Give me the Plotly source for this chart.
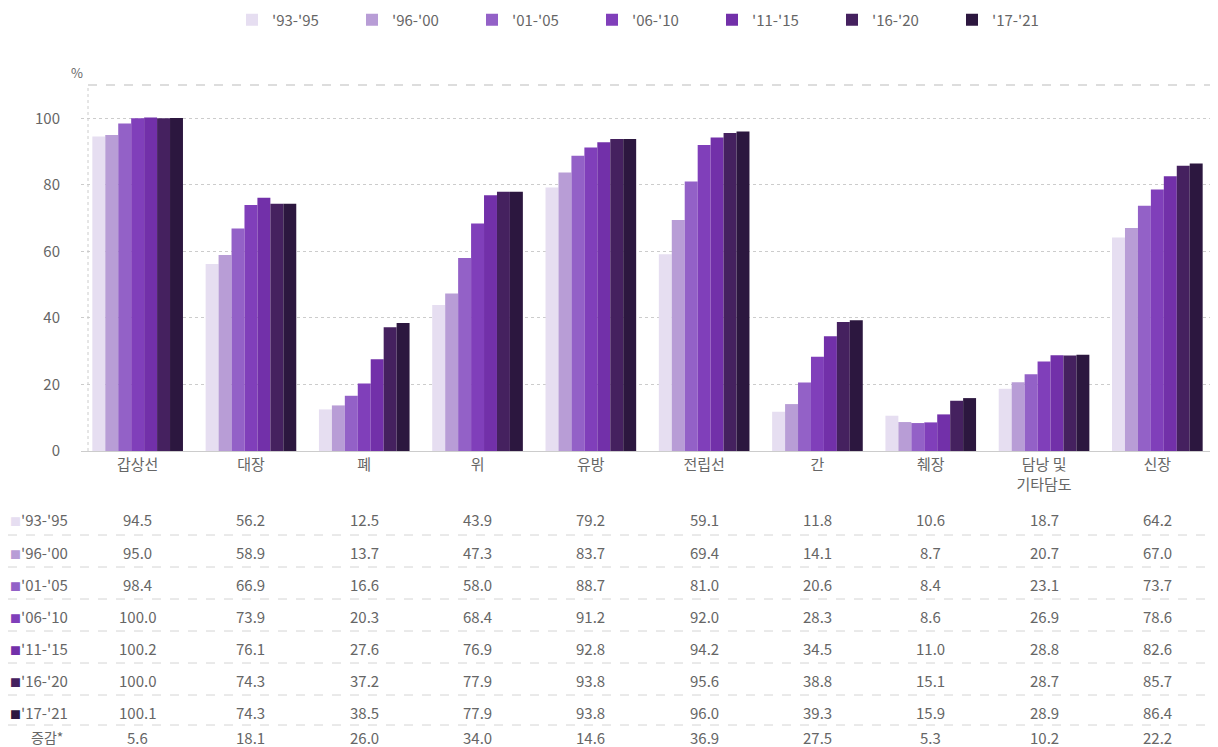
import plotly.graph_objects as go

categories = ["갑상선", "대장", "폐", "위", "유방", "전립선", "간", "췌장", "담낭 및<br>기타담도", "신장"]
periods = ["'93-'95", "'96-'00", "'01-'05", "'06-'10", "'11-'15", "'16-'20", "'17-'21"]
v93_95 = [94.5, 56.2, 12.5, 43.9, 79.2, 59.1, 11.8, 10.6, 18.7, 64.2]
v96_00 = [95.0, 58.9, 13.7, 47.3, 83.7, 69.4, 14.1, 8.7, 20.7, 67.0]
v01_05 = [98.4, 66.9, 16.6, 58.0, 88.7, 81.0, 20.6, 8.4, 23.1, 73.7]
v06_10 = [100.0, 73.9, 20.3, 68.4, 91.2, 92.0, 28.3, 8.6, 26.9, 78.6]
v11_15 = [100.2, 76.1, 27.6, 76.9, 92.8, 94.2, 34.5, 11.0, 28.8, 82.6]
v16_20 = [100.0, 74.3, 37.2, 77.9, 93.8, 95.6, 38.8, 15.1, 28.7, 85.7]
v17_21 = [100.1, 74.3, 38.5, 77.9, 93.8, 96.0, 39.3, 15.9, 28.9, 86.4]
change = [5.6, 18.1, 26.0, 34.0, 14.6, 36.9, 27.5, 5.3, 10.2, 22.2]
change_label = "증감*"
series = [v93_95, v96_00, v01_05, v06_10, v11_15, v16_20, v17_21]
colors = ["#e6def1", "#b89dd6", "#9361c7", "#803fba", "#7230a9", "#45215f", "#2c173f"]
yticks = [0, 20, 40, 60, 80, 100]

FONT = "Noto Sans CJK KR"
TXT = "#666666"
OFF = 8  # page body margin
W, H = 1218 - OFF, 747 - OFF
# plot area in reference pixel coords
L_REF, R_REF, T_REF, B_REF = 81, 1214, 85, 451
ML, MT = L_REF - OFF, T_REF - OFF
MR = W - (R_REF - OFF)
MB = H - (B_REF - OFF)
PH = H - MT - MB
PW = W - ML - MR

def py(pix):
    return (B_REF - pix) / PH

def px(pix):
    return (pix - L_REF) / PW

fig = go.Figure()
for name, vals, c in zip(periods, series, colors):
    fig.add_trace(go.Bar(x=categories, y=vals, name=name, marker=dict(color=c, line=dict(width=0))))

annotations = []
shapes = []
row_y = [520, 552, 584, 616, 648, 680, 712]
for i, (name, vals, c) in enumerate(zip(periods, series, colors)):
    annotations.append(dict(x=px(8), y=py(row_y[i]), xref="paper", yref="paper",
                            text=f"<span style='color:{c};font-size:11px'>■</span>{name}", showarrow=False,
                            xanchor="left", yanchor="middle", font=dict(size=15, color=TXT, family=FONT)))
    for cat, v in zip(categories, vals):
        annotations.append(dict(x=cat, y=py(row_y[i]), xref="x", yref="paper", text=f"{v:.1f}",
                                showarrow=False, xanchor="center", yanchor="middle",
                                font=dict(size=15, color=TXT, family=FONT)))
annotations.append(dict(x=px(47), y=py(737), xref="paper", yref="paper", text=change_label,
                        showarrow=False, xanchor="center", yanchor="middle",
                        font=dict(size=14, color=TXT, family=FONT)))
for cat, v in zip(categories, change):
    annotations.append(dict(x=cat, y=py(737), xref="x", yref="paper", text=f"{v:.1f}",
                            showarrow=False, xanchor="center", yanchor="middle",
                            font=dict(size=15, color=TXT, family=FONT)))
for sy in [535, 567, 599, 631, 663, 695, 725]:
    shapes.append(dict(type="line", xref="paper", yref="paper", x0=px(OFF), x1=px(1218), y0=py(sy), y1=py(sy),
                       line=dict(color="#d4d4d4", width=1, dash="dash")))
# top dashed border and left dotted axis
shapes.append(dict(type="line", xref="paper", yref="paper", x0=px(88), x1=1, y0=1, y1=1,
                   line=dict(color="#bbbbbb", width=1, dash="dash")))
shapes.append(dict(type="line", xref="paper", yref="paper", x0=px(88), x1=px(88), y0=0, y1=1,
                   line=dict(color="#cccccc", width=1, dash="dot")))
annotations.append(dict(x=px(77), y=py(72), xref="paper", yref="paper", text="%", showarrow=False,
                        xanchor="center", yanchor="middle", font=dict(size=13, color=TXT, family=FONT)))

fig.update_layout(
    width=W, height=H,
    margin=dict(l=ML, r=MR, t=MT, b=MB, autoexpand=False),
    plot_bgcolor="white", paper_bgcolor="white",
    barmode="group", bargap=0.2, bargroupgap=0,
    font=dict(family=FONT, color=TXT, size=15),
    legend=dict(orientation="h", x=px(652), xanchor="center", y=py(20), yanchor="middle",
                font=dict(size=15, color=TXT, family=FONT), itemwidth=30, entrywidth=75,
                entrywidthmode="pixels", tracegroupgap=0),
    annotations=annotations, shapes=shapes,
    xaxis=dict(showgrid=False, showline=True, linecolor="#cccccc", ticks="", tickfont=dict(size=15, color=TXT)),
    yaxis=dict(range=[0, 110], tickvals=yticks, showgrid=True, gridcolor="#cccccc", griddash="dot",
               zeroline=False, showline=False, ticks="", tickfont=dict(size=15, color=TXT), ticklabelstandoff=20),
    showlegend=True,
)
fig.write_html("out.html")
